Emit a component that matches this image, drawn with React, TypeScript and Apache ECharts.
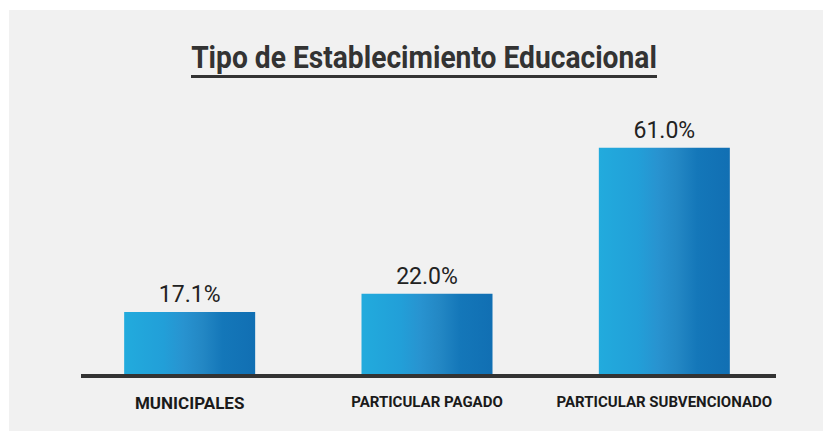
import React, { useEffect, useRef } from "react";
import * as echarts from "echarts";

const categories = ["MUNICIPALES", "PARTICULAR PAGADO", "PARTICULAR SUBVENCIONADO"];
const values = [17.1, 22.0, 61.0];
const titleText = "Tipo de Establecimiento Educacional";

const FONT = 'Roboto, "Liberation Sans", sans-serif';

export default function App() {
  const ref = useRef<HTMLDivElement>(null);
  useEffect(() => {
    document.body.style.margin = "0";
    const chart = echarts.init(ref.current!, null, { renderer: "svg" });
    const titleFont = `bold 32px ${FONT}`;
    const cv = document.createElement("canvas").getContext("2d")!;
    cv.font = titleFont;
    const tw = cv.measureText(titleText).width || 466;
    const titleScale = 466 / tw;
    const grad = new echarts.graphic.LinearGradient(0, 0, 1, 0, [
      { offset: 0, color: "#22abdd" },
      { offset: 0.3, color: "#229fd8" },
      { offset: 0.45, color: "#2893d0" },
      { offset: 0.6, color: "#2387c4" },
      { offset: 0.75, color: "#1477b9" },
      { offset: 1, color: "#116fb3" },
    ]);
    chart.setOption({
      animation: false,
      backgroundColor: "#ffffff",
      graphic: [
        { type: "rect", z: -10, shape: { x: 9, y: 10, width: 814, height: 421 }, style: { fill: "#f1f1f1" } },
        {
          type: "text",
          x: 424,
          y: 41,
          scaleX: titleScale,
          style: {
            text: titleText,
            font: titleFont,
            fill: "#333333",
            textAlign: "center",
            textVerticalAlign: "top",
          },
        },
        { type: "rect", shape: { x: 191, y: 75, width: 466, height: 3 }, style: { fill: "#333333" } },
        { type: "rect", z: 10, shape: { x: 81, y: 374, width: 695, height: 4 }, style: { fill: "#333333" } },
      ],
      grid: { left: 71, right: 40, top: 114, bottom: 55 },
      xAxis: {
        type: "category",
        data: categories,
        axisLine: { show: false },
        axisTick: { show: false },
        axisLabel: {
          interval: 0,
          margin: 18,
          fontFamily: FONT,
          fontWeight: "bold",
          fontSize: 15,
          color: "#1a1a1a",
          formatter: (v: string) => (v === "MUNICIPALES" ? `{big|${v}}` : v),
          rich: { big: { fontFamily: FONT, fontWeight: "bold", fontSize: 17, color: "#1a1a1a" } },
        },
      },
      yAxis: { type: "value", min: 0, max: 70, show: false, splitLine: { show: false } },
      series: [
        {
          type: "bar",
          data: values,
          barWidth: 131,
          itemStyle: { color: grad },
          label: {
            show: true,
            position: "top",
            distance: 6,
            fontFamily: FONT,
            fontSize: 23,
            color: "#222222",
            formatter: (p: any) => `${p.value.toFixed(1)}%`,
          },
        },
      ],
    });
    return () => chart.dispose();
  }, []);
  return <div ref={ref} style={{ width: 823, height: 431 }} />;
}
